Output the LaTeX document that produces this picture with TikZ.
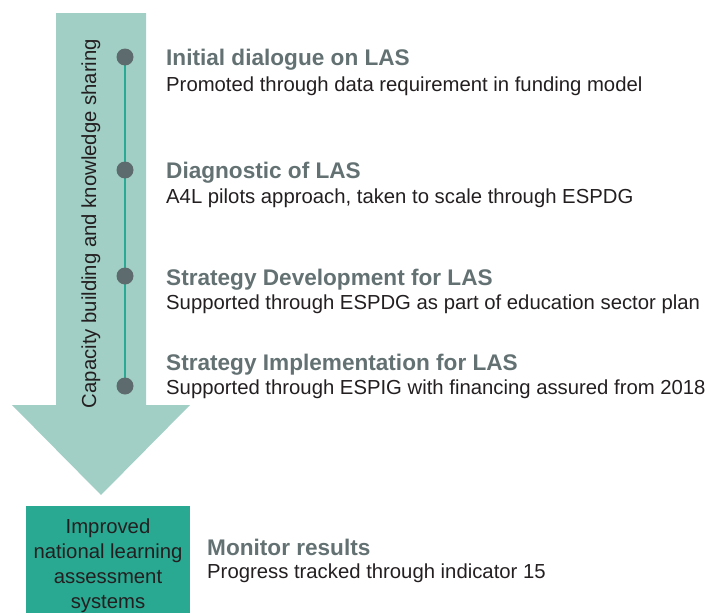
\documentclass[tikz,border=0pt]{standalone}
\usepackage{fontspec}
\setmainfont{Liberation Sans}
\definecolor{arrowc}{HTML}{A2CFC5}
\definecolor{boxc}{HTML}{29A992}
\definecolor{linec}{HTML}{2AAA94}
\definecolor{dotc}{HTML}{5E6B6E}
\definecolor{titlec}{HTML}{637173}
\definecolor{bodyc}{HTML}{231F20}
\begin{document}
\begin{tikzpicture}[x=1pt,y=-1pt,
  dotn/.style={circle,fill=dotc,minimum size=17pt,inner sep=0pt},
  titlen/.style={anchor=base west,inner sep=0pt,text=titlec,font=\fontsize{22.6}{27}\selectfont\bfseries},
  bodyn/.style={anchor=base west,inner sep=0pt,text=bodyc,font=\fontsize{20.3}{25}\selectfont},
  ]
\useasboundingbox (0,0) rectangle (710,613);
% big arrow
\fill[arrowc] (56,13) -- (146,13) -- (146,405) -- (190,405) -- (101,495) -- (12,405) -- (56,405) -- cycle;
\node[rotate=90,anchor=base,inner sep=0pt,text=bodyc,font=\fontsize{20.3}{25}\selectfont] (cap) at (96,223.5) {Capacity building and knowledge sharing};
% timeline
\coordinate (c1) at (125,57);
\coordinate (c4) at (125,386);
\draw[linec,line width=2.2pt] (c1) -- (c4);
\node[dotn] (d1) at (c1) {};
\node[dotn] (d2) at (125,170) {};
\node[dotn] (d3) at (125,276) {};
\node[dotn] (d4) at (c4) {};
% texts
\node[titlen] (t1) at (166,65) {Initial dialogue on LAS};
\node[bodyn] (b1) at (166,91) {Promoted through data requirement in funding model};
\node[titlen] (t2) at (166,178) {Diagnostic of LAS};
\node[bodyn] (b2) at (166,203) {A4L pilots approach, taken to scale through ESPDG};
\node[titlen] (t3) at (166,285) {Strategy Development for LAS};
\node[bodyn] (b3) at (166,309) {Supported through ESPDG as part of education sector plan};
\node[titlen] (t4) at (166,370) {Strategy Implementation for LAS};
\node[bodyn] (b4) at (166,394) {Supported through ESPIG with financing assured from 2018};
% result box
\fill[boxc] (26,506) rectangle (190,613);
\node[anchor=base,inner sep=0pt,text=bodyc,font=\fontsize{20.3}{25}\selectfont,align=center] (res) at (108,608) {Improved\\national learning\\assessment\\systems};
\node[titlen] (t5) at (207,555) {Monitor results};
\node[bodyn] (b5) at (207,578) {Progress tracked through indicator 15};
\end{tikzpicture}
\end{document}
